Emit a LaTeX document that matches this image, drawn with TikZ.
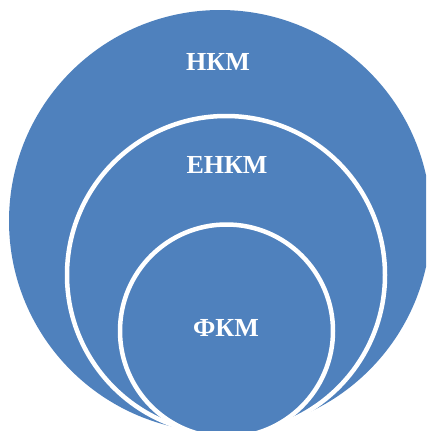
\documentclass[tikz,border=0pt]{standalone}
\usepackage{fontspec}
\setmainfont{Liberation Serif}
\definecolor{ringblue}{RGB}{79,129,189}
\begin{document}
\begin{tikzpicture}[x=1pt,y=-1pt]
\tikzstyle{disc} = [circle, inner sep=0pt, fill=ringblue, draw=white, line width=4.5pt]
\tikzstyle{lbl} = [text=white, inner sep=0pt, font=\fontsize{26}{30}\selectfont\bfseries]
\useasboundingbox (0,0) rectangle (426,431);
\clip (0,0) rectangle (426,431);
% nested circles, touching at the bottom
\node (NKM) [disc, draw=none, minimum size=422pt] at (220,221) {};
\node (ENKM) [disc, minimum size=318pt] at (226,275) {};
\node (FKM) [disc, minimum size=213pt] at (226.5,331) {};
% labels
\node (NKMlbl) [lbl] at (218,62) {НКМ};
\node (ENKMlbl) [lbl] at (227,165) {ЕНКМ};
\node (FKMlbl) [lbl] at (226,328) {ФКМ};
\end{tikzpicture}
\end{document}
